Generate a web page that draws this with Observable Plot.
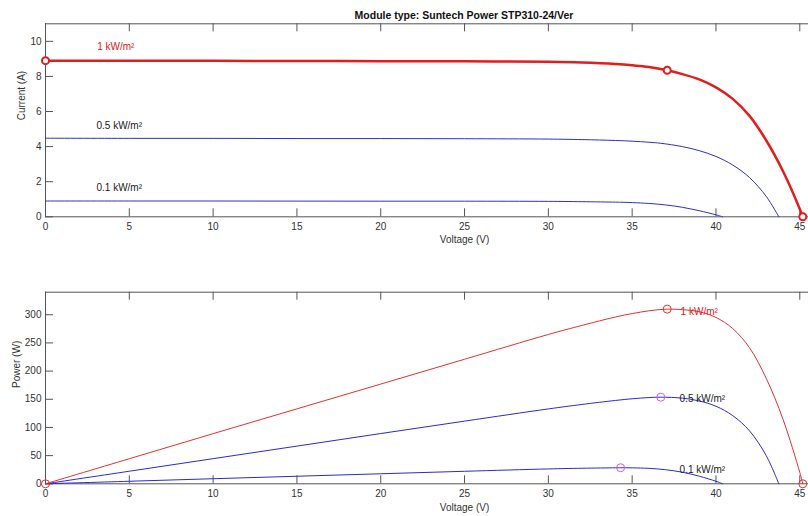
<!DOCTYPE html>
<html>
<head>
<meta charset="utf-8">
<script src="https://cdn.jsdelivr.net/npm/d3@7"></script>
<script src="https://cdn.jsdelivr.net/npm/@observablehq/plot@0.6"></script>
<style>
  html, body { margin: 0; padding: 0; background: #fff; overflow: hidden; }
  #wrap { width: 808px; height: 516px; font-family: "Liberation Sans", Arial, sans-serif; }
  #title { height: 20px; box-sizing: border-box; padding-top: 9px; padding-left: 120px;
           line-height: 12px; text-align: center; font-weight: bold; font-size: 10.5px; color: #111; white-space: nowrap; }
  svg { display: block; }
</style>
</head>
<body>
<div id="wrap">
  <div id="title">Module type: Suntech Power STP310-24/Ver</div>
  <div id="top"></div>
  <div id="bottom"></div>
</div>
<script>
// ---------------- data ----------------
const irradiance = ["1 kW/m²", "0.5 kW/m²", "0.1 kW/m²"];

const voltage1  = [0, 5, 10, 15, 20, 25, 30, 32, 34, 35, 36, 37.09, 38, 39, 40, 41, 42, 43, 44, 45, 45.18];
const current1  = [8.90, 8.90, 8.89, 8.88, 8.87, 8.86, 8.83, 8.79, 8.71, 8.64, 8.54, 8.35, 8.13, 7.83, 7.38, 6.72, 5.75, 4.35, 2.60, 0.45, 0];
const power1    = [0, 44.5, 89, 133, 177, 221, 265, 281, 296, 302, 307, 310, 309, 305.4, 295.2, 275.5, 241.5, 187, 114.4, 20.3, 0];

const voltage05 = [0, 5, 10, 15, 20, 25, 30, 32, 34, 35, 36, 36.71, 38, 39, 40, 41, 42, 43, 43.75];
const current05 = [4.48, 4.47, 4.47, 4.46, 4.46, 4.45, 4.43, 4.40, 4.35, 4.31, 4.25, 4.19, 4.00, 3.77, 3.44, 2.95, 2.24, 1.16, 0];
const power05   = [0, 22.3, 44.6, 66.9, 89.2, 111.2, 132.9, 140.8, 147.9, 150.9, 153, 153.7, 152, 147, 137.6, 121, 94, 49.9, 0];

const voltage01 = [0, 5, 10, 15, 20, 25, 30, 32, 34, 34.31, 35, 36, 37, 38, 39, 40, 40.4];
const current01 = [0.90, 0.90, 0.90, 0.895, 0.89, 0.89, 0.88, 0.862, 0.836, 0.83, 0.81, 0.761, 0.676, 0.54, 0.346, 0.113, 0];
const power01   = [0, 4.5, 9, 13.4, 17.8, 22.2, 26.4, 27.6, 28.4, 28.5, 28.3, 27.4, 25.0, 20.5, 13.5, 4.5, 0];

// markers
const ivMarkV   = [0, 37.09, 45.18];
const ivMarkI   = [8.90, 8.35, 0];
const pRedMarkV = [0, 37.09, 45.18];
const pRedMarkP = [0, 310, 0];
const mppV      = [36.71, 34.31];
const mppP      = [153.7, 28.5];

// curve labels
const ivLabelV = [3.08, 3.04, 3.04];
const ivLabelI = [9.67, 5.21, 1.67];
const pLabelV  = [37.89, 37.83, 37.83];
const pLabelP  = [306, 151, 25.4];

// ticks
const xTicks  = [0, 5, 10, 15, 20, 25, 30, 35, 40, 45];
const iTicks  = [0, 2, 4, 6, 8, 10];
const pTicks  = [0, 50, 100, 150, 200, 250, 300];

// ---------------- build tables ----------------
const seriesDefs = [
  {name: irradiance[0], v: voltage1,  i: current1,  p: power1},
  {name: irradiance[1], v: voltage05, i: current05, p: power05},
  {name: irradiance[2], v: voltage01, i: current01, p: power01}
];
const rows = seriesDefs.flatMap(s => s.v.map((v, k) => ({series: s.name, v, i: s.i[k], p: s.p[k]})));
const rowsRed  = rows.filter(d => d.series === irradiance[0]);
const rowsBlue = rows.filter(d => d.series !== irradiance[0]);

const ivMarks  = ivMarkV.map((v, k) => ({v, i: ivMarkI[k]}));
const pRedMarks = pRedMarkV.map((v, k) => ({v, p: pRedMarkP[k]}));
const mppMarks = mppV.map((v, k) => ({v, p: mppP[k]}));
const labelColors = ["#e02020", "#1a1a1a", "#1a1a1a"];
const ivLabels = irradiance.map((t, k) => ({t, v: ivLabelV[k], i: ivLabelI[k], c: labelColors[k]}));
const pLabels  = irradiance.map((t, k) => ({t, v: pLabelV[k], p: pLabelP[k], c: labelColors[k]}));

// ---------------- styling ----------------
const W = 808, ML = 45, MR = 0;
const xDomain = [0, 45.52];
const axisColor = "#555";
const textColor = "#333";
const tickLen = 8;
const FONT = "'Liberation Sans', Arial, sans-serif";
const CURVE = "catmull-rom";

function frame(plotW, plotH, yTicks, yMax) {
  return [
    Plot.ruleY([0], {stroke: axisColor}),
    Plot.ruleY([yMax], {stroke: axisColor}),
    Plot.ruleX([0], {stroke: axisColor}),
    Plot.tickX(xTicks, {x: d => d, stroke: axisColor, insetTop: plotH - tickLen}),
    Plot.tickX(xTicks, {x: d => d, stroke: axisColor, insetBottom: plotH - tickLen}),
    Plot.tickY(yTicks, {y: d => d, stroke: axisColor, insetRight: plotW - tickLen}),
    Plot.axisX(xTicks, {tickSize: 0, tickPadding: 6, label: null, fontSize: 10, color: textColor}),
    Plot.axisY(yTicks, {tickSize: 0, tickPadding: 4, label: null, fontSize: 10, color: textColor})
  ];
}

// ---------------- top: I-V ----------------
{
  const H = 230, MT = 3.3, MB = 33.7;
  const plotW = W - ML - MR, plotH = H - MT - MB;
  const chart = Plot.plot({
    width: W, height: H, marginLeft: ML, marginRight: MR, marginTop: MT, marginBottom: MB,
    x: {domain: xDomain}, y: {domain: [0, 11]},
    style: {fontFamily: FONT, fontSize: "10px", background: "white", overflow: "visible"},
    marks: [
      ...frame(plotW, plotH, iTicks, 11),
      Plot.line(rowsBlue, {x: "v", y: "i", z: "series", stroke: "#2e2ed0", strokeWidth: 1, curve: CURVE}),
      Plot.line(rowsRed, {x: "v", y: "i", stroke: "#e31c1c", strokeWidth: 2.5, curve: CURVE}),
      Plot.dot(ivMarks, {x: "v", y: "i", r: 3.5, stroke: "#e31c1c", strokeWidth: 2, fill: "white"}),
      Plot.text(ivLabels, {x: "v", y: "i", text: "t", fill: "c", textAnchor: "start", fontSize: 10}),
      Plot.text(["Voltage (V)"], {text: d => d, frameAnchor: "bottom", dx: 37.5, dy: 26.5, fontSize: 10, fill: textColor}),
      Plot.text(["Current (A)"], {text: d => d, frameAnchor: "left", rotate: -90, dx: -23.3, fontSize: 10, fill: textColor})
    ]
  });
  document.getElementById("top").appendChild(chart);
}

// ---------------- bottom: P-V ----------------
{
  const H = 266, MT = 41.7, MB = 32.7;
  const plotW = W - ML - MR, plotH = H - MT - MB;
  const chart = Plot.plot({
    width: W, height: H, marginLeft: ML, marginRight: MR, marginTop: MT, marginBottom: MB,
    x: {domain: xDomain}, y: {domain: [0, 340]},
    style: {fontFamily: FONT, fontSize: "10px", background: "white", overflow: "visible"},
    marks: [
      ...frame(plotW, plotH, pTicks, 340),
      Plot.line(rowsBlue, {x: "v", y: "p", z: "series", stroke: "#2a2ad4", strokeWidth: 1, curve: CURVE}),
      Plot.line(rowsRed, {x: "v", y: "p", stroke: "#e83030", strokeWidth: 1, curve: CURVE}),
      Plot.dot(pRedMarks, {x: "v", y: "p", r: 4, stroke: "#e83030", strokeWidth: 1, fill: "none"}),
      Plot.dot(mppMarks, {x: "v", y: "p", r: 4, stroke: "#d45cd4", strokeWidth: 1, fill: "none"}),
      Plot.text(pLabels, {x: "v", y: "p", text: "t", fill: "c", textAnchor: "start", fontSize: 10}),
      Plot.text(["Voltage (V)"], {text: d => d, frameAnchor: "bottom", dx: 37.5, dy: 27.5, fontSize: 10, fill: textColor}),
      Plot.text(["Power (W)"], {text: d => d, frameAnchor: "left", rotate: -90, dx: -28.3, fontSize: 10, fill: textColor})
    ]
  });
  document.getElementById("bottom").appendChild(chart);
}
</script>
</body>
</html>
